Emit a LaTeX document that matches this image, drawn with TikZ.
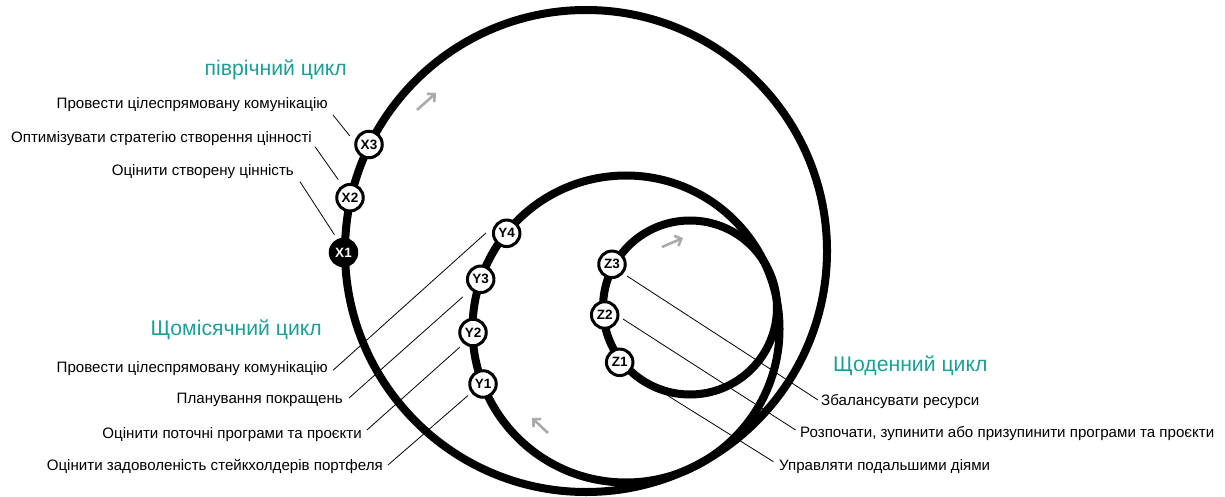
\documentclass[tikz,border=0pt]{standalone}
\usepackage{fontspec}
\setmainfont{Liberation Sans}
\usetikzlibrary{calc,arrows.meta}
\definecolor{cyclecol}{RGB}{26,160,150}
\definecolor{flowgray}{RGB}{170,170,170}
\begin{document}
\begin{tikzpicture}[x=1pt,y=-1pt,
  loopline/.style={line width=8pt},
  stage/.style={circle,draw,line width=3pt,fill=white,minimum size=26.5pt,inner sep=0pt,
    font=\fontsize{13.5}{13.5}\selectfont\bfseries},
  stagedark/.style={stage,fill=black,text=white},
  lbl/.style={inner sep=0pt,text height=10.8pt,text depth=3.1pt,font=\fontsize{15.1}{17}\selectfont},
  cyclehead/.style={inner sep=0pt,text=cyclecol,font=\fontsize{21.2}{24}\selectfont},
  leader/.style={line width=0.8pt},
  flow/.style={draw=flowgray,line width=2.6pt,-{Straight Barb[length=5.5pt,width=11pt]}}
]
\useasboundingbox (0,0) rectangle (1225,497);

% loops
\draw[loopline] (586,251) circle[radius=241pt];
\draw[loopline] (626,329) circle[radius=153.5pt];
\draw[loopline] (690,307.5) circle[radius=87pt];

% direction arrows
\draw[flow] (417,110) -- (436,93);
\draw[flow] (662,247) -- (683,238);
\draw[flow] (548,433) -- (532,418);

% stages
\node[stagedark] (X1) at (343.5,252.5) {X1};
\node[stage] (X2) at (350,197.7) {X2};
\node[stage] (X3) at (369,144.5) {X3};
\node[stage] (Y1) at (483,384) {Y1};
\node[stage] (Y2) at (473,332.5) {Y2};
\node[stage] (Y3) at (480.7,279.3) {Y3};
\node[stage] (Y4) at (506.7,233.3) {Y4};
\node[stage] (Z1) at (619.7,362.3) {Z1};
\node[stage] (Z2) at (604.7,315) {Z2};
\node[stage] (Z3) at (612,264.3) {Z3};

% headings
\node[cyclehead,anchor=east] (hx) at (347,70) {піврічний цикл};
\node[cyclehead,anchor=east] (hy) at (322,330) {Щомісячний цикл};
\node[cyclehead,anchor=west] (hz) at (833,365.5) {Щоденний цикл};

% labels
\node[lbl,anchor=east] (lx3) at (328,105) {Провести цілеспрямовану комунікацію};
\node[lbl,anchor=east] (lx2) at (312,138.3) {Оптимізувати стратегію створення цінності};
\node[lbl,anchor=east] (lx1) at (294,171.7) {Оцінити створену цінність};
\node[lbl,anchor=east] (ly4) at (328,368.3) {Провести цілеспрямовану комунікацію};
\node[lbl,anchor=east] (ly3) at (343,400) {Планування покращень};
\node[lbl,anchor=east] (ly2) at (362,435) {Оцінити поточні програми та проєкти};
\node[lbl,anchor=east] (ly1) at (383,466.7) {Оцінити задоволеність стейкхолдерів портфеля};
\node[lbl,anchor=west] (lz3) at (821,401.7) {Збалансувати ресурси};
\node[lbl,anchor=west] (lz2) at (800,433.5) {Розпочати, зупинити або призупинити програми та проєкти};
\node[lbl,anchor=west] (lz1) at (779,466.7) {Управляти подальшими діями};

% leaders
\draw[leader] ($(lx3.east)+(5pt,-10pt)$) -- ($(X3)+(156:21pt)$);
\draw[leader] ($(lx2.east)+(3pt,-8.4pt)$) -- ($(X2)+(123:21.5pt)$);
\draw[leader] ($(lx1.east)+(6pt,-10pt)$) -- ($(X1)+(117:20pt)$);
\draw[leader] ($(ly4.east)+(5pt,-2pt)$) -- ($(Y4)+(179:20.7pt)$);
\draw[leader] ($(ly3.east)+(6pt,2pt)$) -- ($(Y3)+(224.5:25pt)$);
\draw[leader] ($(ly2.east)+(5pt,5pt)$) -- ($(Y2)+(228:19.5pt)$);
\draw[leader] ($(ly1.east)+(5pt,1.7pt)$) -- ($(Y1)+(217.5:19pt)$);
\draw[leader] ($(lz3.west)+(-3pt,1.7pt)$) -- ($(Z3)+(322:19pt)$);
\draw[leader] ($(lz2.west)+(-4.4pt,3.5pt)$) -- ($(Z2)+(347.7:18.7pt)$);
\draw[leader] ($(lz1.west)+(-5.5pt,5pt)$) -- ($(Z1)+(319:18pt)$);
\end{tikzpicture}
\end{document}
